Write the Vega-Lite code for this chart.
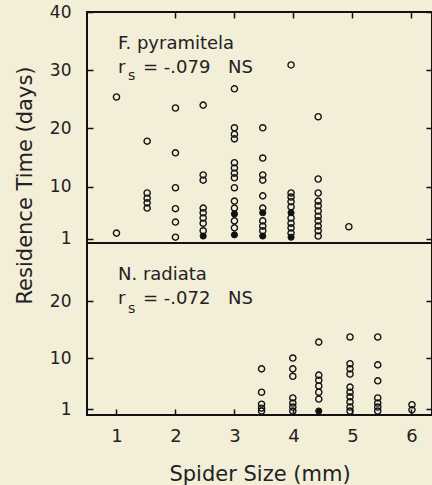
{
  "$schema": "https://vega.github.io/schema/vega-lite/v6.json",
  "background": "#f2eed8",
  "padding": {"left": 13, "top": 2, "right": 0, "bottom": 0},
  "spacing": 0,
  "bounds": "flush",
  "config": {
    "view": {"stroke": "#111", "strokeWidth": 2},
    "axis": {
      "grid": false, "domain": false, "tickColor": "#111", "tickWidth": 1.5, "tickSize": -6,
      "labelFont": "DejaVu Sans", "labelFontSize": 17, "labelColor": "#222", "labelFlush": false, "labelOverlap": false,
      "titleFont": "DejaVu Sans", "titleFontSize": 21, "titleFontWeight": "normal", "titleColor": "#222"
    }
  },
  "datasets": {
    "pts": [
      {"sp": "F", "size": 1.0, "days": 25.4, "fill": "o"},
      {"sp": "F", "size": 1.0, "days": 2.0, "fill": "o"},
      {"sp": "F", "size": 1.52, "days": 17.8, "fill": "o"},
      {"sp": "F", "size": 1.52, "days": 8.9, "fill": "o"},
      {"sp": "F", "size": 1.52, "days": 8.0, "fill": "o"},
      {"sp": "F", "size": 1.52, "days": 7.2, "fill": "o"},
      {"sp": "F", "size": 1.52, "days": 6.3, "fill": "o"},
      {"sp": "F", "size": 2.0, "days": 23.5, "fill": "o"},
      {"sp": "F", "size": 2.0, "days": 15.8, "fill": "o"},
      {"sp": "F", "size": 2.0, "days": 9.8, "fill": "o"},
      {"sp": "F", "size": 2.0, "days": 6.2, "fill": "o"},
      {"sp": "F", "size": 2.0, "days": 3.9, "fill": "o"},
      {"sp": "F", "size": 2.0, "days": 1.3, "fill": "o"},
      {"sp": "F", "size": 2.47, "days": 24.0, "fill": "o"},
      {"sp": "F", "size": 2.47, "days": 12.0, "fill": "o"},
      {"sp": "F", "size": 2.47, "days": 11.1, "fill": "o"},
      {"sp": "F", "size": 2.47, "days": 6.3, "fill": "o"},
      {"sp": "F", "size": 2.47, "days": 5.5, "fill": "o"},
      {"sp": "F", "size": 2.47, "days": 4.6, "fill": "o"},
      {"sp": "F", "size": 2.47, "days": 3.7, "fill": "o"},
      {"sp": "F", "size": 2.47, "days": 2.4, "fill": "o"},
      {"sp": "F", "size": 2.47, "days": 1.5, "fill": "f"},
      {"sp": "F", "size": 3.0, "days": 26.8, "fill": "o"},
      {"sp": "F", "size": 3.0, "days": 20.1, "fill": "o"},
      {"sp": "F", "size": 3.0, "days": 19.0, "fill": "o"},
      {"sp": "F", "size": 3.0, "days": 18.2, "fill": "o"},
      {"sp": "F", "size": 3.0, "days": 14.1, "fill": "o"},
      {"sp": "F", "size": 3.0, "days": 13.2, "fill": "o"},
      {"sp": "F", "size": 3.0, "days": 12.3, "fill": "o"},
      {"sp": "F", "size": 3.0, "days": 11.5, "fill": "o"},
      {"sp": "F", "size": 3.0, "days": 9.8, "fill": "o"},
      {"sp": "F", "size": 3.0, "days": 7.5, "fill": "o"},
      {"sp": "F", "size": 3.0, "days": 6.3, "fill": "o"},
      {"sp": "F", "size": 3.0, "days": 5.3, "fill": "f"},
      {"sp": "F", "size": 3.0, "days": 4.1, "fill": "o"},
      {"sp": "F", "size": 3.0, "days": 2.9, "fill": "o"},
      {"sp": "F", "size": 3.0, "days": 1.7, "fill": "f"},
      {"sp": "F", "size": 3.48, "days": 20.1, "fill": "o"},
      {"sp": "F", "size": 3.48, "days": 14.9, "fill": "o"},
      {"sp": "F", "size": 3.48, "days": 12.0, "fill": "o"},
      {"sp": "F", "size": 3.48, "days": 11.1, "fill": "o"},
      {"sp": "F", "size": 3.48, "days": 8.4, "fill": "o"},
      {"sp": "F", "size": 3.48, "days": 6.3, "fill": "o"},
      {"sp": "F", "size": 3.48, "days": 5.5, "fill": "f"},
      {"sp": "F", "size": 3.48, "days": 4.1, "fill": "o"},
      {"sp": "F", "size": 3.48, "days": 3.2, "fill": "o"},
      {"sp": "F", "size": 3.48, "days": 2.4, "fill": "o"},
      {"sp": "F", "size": 3.48, "days": 1.5, "fill": "f"},
      {"sp": "F", "size": 3.96, "days": 30.9, "fill": "o"},
      {"sp": "F", "size": 3.96, "days": 8.9, "fill": "o"},
      {"sp": "F", "size": 3.96, "days": 8.2, "fill": "o"},
      {"sp": "F", "size": 3.96, "days": 7.4, "fill": "o"},
      {"sp": "F", "size": 3.96, "days": 6.5, "fill": "o"},
      {"sp": "F", "size": 3.96, "days": 5.5, "fill": "f"},
      {"sp": "F", "size": 3.96, "days": 4.6, "fill": "o"},
      {"sp": "F", "size": 3.96, "days": 3.7, "fill": "o"},
      {"sp": "F", "size": 3.96, "days": 2.9, "fill": "o"},
      {"sp": "F", "size": 3.96, "days": 2.0, "fill": "o"},
      {"sp": "F", "size": 3.96, "days": 1.3, "fill": "f"},
      {"sp": "F", "size": 4.42, "days": 22.0, "fill": "o"},
      {"sp": "F", "size": 4.42, "days": 11.3, "fill": "o"},
      {"sp": "F", "size": 4.42, "days": 8.9, "fill": "o"},
      {"sp": "F", "size": 4.42, "days": 7.5, "fill": "o"},
      {"sp": "F", "size": 4.42, "days": 6.7, "fill": "o"},
      {"sp": "F", "size": 4.42, "days": 5.8, "fill": "o"},
      {"sp": "F", "size": 4.42, "days": 4.9, "fill": "o"},
      {"sp": "F", "size": 4.42, "days": 4.1, "fill": "o"},
      {"sp": "F", "size": 4.42, "days": 3.2, "fill": "o"},
      {"sp": "F", "size": 4.42, "days": 2.4, "fill": "o"},
      {"sp": "F", "size": 4.42, "days": 1.5, "fill": "o"},
      {"sp": "F", "size": 4.94, "days": 3.1, "fill": "o"},
      {"sp": "N", "size": 3.46, "days": 8.1, "fill": "o"},
      {"sp": "N", "size": 3.46, "days": 4.0, "fill": "o"},
      {"sp": "N", "size": 3.46, "days": 1.9, "fill": "o"},
      {"sp": "N", "size": 3.46, "days": 1.2, "fill": "o"},
      {"sp": "N", "size": 3.46, "days": 0.7, "fill": "o"},
      {"sp": "N", "size": 3.99, "days": 10.0, "fill": "o"},
      {"sp": "N", "size": 3.99, "days": 8.1, "fill": "o"},
      {"sp": "N", "size": 3.99, "days": 6.8, "fill": "o"},
      {"sp": "N", "size": 3.99, "days": 3.0, "fill": "o"},
      {"sp": "N", "size": 3.99, "days": 2.1, "fill": "o"},
      {"sp": "N", "size": 3.99, "days": 1.4, "fill": "o"},
      {"sp": "N", "size": 3.99, "days": 0.7, "fill": "o"},
      {"sp": "N", "size": 4.43, "days": 12.8, "fill": "o"},
      {"sp": "N", "size": 4.43, "days": 7.0, "fill": "o"},
      {"sp": "N", "size": 4.43, "days": 6.1, "fill": "o"},
      {"sp": "N", "size": 4.43, "days": 5.1, "fill": "o"},
      {"sp": "N", "size": 4.43, "days": 4.0, "fill": "o"},
      {"sp": "N", "size": 4.43, "days": 2.8, "fill": "o"},
      {"sp": "N", "size": 4.43, "days": 0.7, "fill": "f"},
      {"sp": "N", "size": 4.96, "days": 13.7, "fill": "o"},
      {"sp": "N", "size": 4.96, "days": 9.0, "fill": "o"},
      {"sp": "N", "size": 4.96, "days": 8.1, "fill": "o"},
      {"sp": "N", "size": 4.96, "days": 7.2, "fill": "o"},
      {"sp": "N", "size": 4.96, "days": 4.9, "fill": "o"},
      {"sp": "N", "size": 4.96, "days": 4.0, "fill": "o"},
      {"sp": "N", "size": 4.96, "days": 3.2, "fill": "o"},
      {"sp": "N", "size": 4.96, "days": 2.3, "fill": "o"},
      {"sp": "N", "size": 4.96, "days": 1.4, "fill": "o"},
      {"sp": "N", "size": 4.96, "days": 0.7, "fill": "o"},
      {"sp": "N", "size": 5.43, "days": 13.7, "fill": "o"},
      {"sp": "N", "size": 5.43, "days": 8.8, "fill": "o"},
      {"sp": "N", "size": 5.43, "days": 6.0, "fill": "o"},
      {"sp": "N", "size": 5.43, "days": 3.0, "fill": "o"},
      {"sp": "N", "size": 5.43, "days": 2.1, "fill": "o"},
      {"sp": "N", "size": 5.43, "days": 1.4, "fill": "o"},
      {"sp": "N", "size": 5.43, "days": 0.7, "fill": "o"},
      {"sp": "N", "size": 6.01, "days": 1.8, "fill": "o"},
      {"sp": "N", "size": 6.01, "days": 0.9, "fill": "o"}
    ]
  },
  "vconcat": [
    {
      "width": 345,
      "height": 231,
      "resolve": {"axis": {"x": "independent", "y": "independent"}},
      "layer": [
        {
          "data": {"name": "pts"},
          "transform": [{"filter": "datum.sp === 'F' && datum.fill === 'o'"}],
          "mark": {"type": "point", "shape": "circle", "filled": false, "stroke": "#111", "strokeWidth": 1.4, "size": 38, "opacity": 1},
          "encoding": {
            "x": {"field": "size", "type": "quantitative", "scale": {"domain": [0.5, 6.35], "nice": false, "zero": false}, "axis": null},
            "y": {"field": "days", "type": "quantitative", "scale": {"domain": [0.3, 40], "nice": false, "zero": false},
                  "axis": {"values": [1, 10, 20, 30, 40], "labelPadding": 22, "title": "Residence Time (days)", "titleX": -52, "titleY": 173, "titleAngle": -90, "titleAlign": "center", "titleBaseline": "bottom"}}
          }
        },
        {
          "data": {"name": "pts"},
          "transform": [{"filter": "datum.sp === 'F' && datum.fill === 'f'"}],
          "mark": {"type": "point", "shape": "circle", "filled": true, "fill": "#111", "stroke": "#111", "strokeWidth": 1, "size": 38, "opacity": 1},
          "encoding": {
            "x": {"field": "size", "type": "quantitative", "scale": {"domain": [0.5, 6.35], "nice": false, "zero": false},
                  "axis": {"orient": "top", "values": [2, 3, 4, 5, 6], "labels": false, "title": null}},
            "y": {"field": "days", "type": "quantitative", "scale": {"domain": [0.3, 40], "nice": false, "zero": false},
                  "axis": {"orient": "right", "values": [1, 10, 20, 30, 40], "labels": false, "title": null}}
          }
        },
        {
          "data": {"values": [{}]},
          "mark": {"type": "text", "text": "F. pyramitela", "align": "left", "baseline": "alphabetic", "font": "DejaVu Sans", "fontSize": 18, "color": "#222"},
          "encoding": {
            "x": {"datum": 1.026, "type": "quantitative", "scale": {"domain": [0.5, 6.35], "nice": false, "zero": false}, "axis": null},
            "y": {"datum": 33.64, "type": "quantitative", "scale": {"domain": [0.3, 40], "nice": false, "zero": false}, "axis": null}
          }
        },
        {
          "data": {"values": [{}]},
          "mark": {"type": "text", "text": "r", "align": "left", "baseline": "alphabetic", "font": "DejaVu Sans", "fontSize": 18, "color": "#222"},
          "encoding": {
            "x": {"datum": 1.026, "type": "quantitative", "scale": {"domain": [0.5, 6.35], "nice": false, "zero": false}, "axis": null},
            "y": {"datum": 29.52, "type": "quantitative", "scale": {"domain": [0.3, 40], "nice": false, "zero": false}, "axis": null}
          }
        },
        {
          "data": {"values": [{}]},
          "mark": {"type": "text", "text": "s", "align": "left", "baseline": "alphabetic", "font": "DejaVu Sans", "fontSize": 14, "color": "#222"},
          "encoding": {
            "x": {"datum": 1.195, "type": "quantitative", "scale": {"domain": [0.5, 6.35], "nice": false, "zero": false}, "axis": null},
            "y": {"datum": 28.3, "type": "quantitative", "scale": {"domain": [0.3, 40], "nice": false, "zero": false}, "axis": null}
          }
        },
        {
          "data": {"values": [{}]},
          "mark": {"type": "text", "text": "= -.079", "align": "left", "baseline": "alphabetic", "font": "DejaVu Sans", "fontSize": 18, "color": "#222"},
          "encoding": {
            "x": {"datum": 1.45, "type": "quantitative", "scale": {"domain": [0.5, 6.35], "nice": false, "zero": false}, "axis": null},
            "y": {"datum": 29.52, "type": "quantitative", "scale": {"domain": [0.3, 40], "nice": false, "zero": false}, "axis": null}
          }
        },
        {
          "data": {"values": [{}]},
          "mark": {"type": "text", "text": "NS", "align": "left", "baseline": "alphabetic", "font": "DejaVu Sans", "fontSize": 18, "color": "#222"},
          "encoding": {
            "x": {"datum": 2.891, "type": "quantitative", "scale": {"domain": [0.5, 6.35], "nice": false, "zero": false}, "axis": null},
            "y": {"datum": 29.52, "type": "quantitative", "scale": {"domain": [0.3, 40], "nice": false, "zero": false}, "axis": null}
          }
        }
      ]
    },
    {
      "width": 345,
      "height": 172,
      "resolve": {"axis": {"x": "independent", "y": "independent"}},
      "layer": [
        {
          "data": {"name": "pts"},
          "transform": [{"filter": "datum.sp === 'N' && datum.fill === 'o'"}],
          "mark": {"type": "point", "shape": "circle", "filled": false, "stroke": "#111", "strokeWidth": 1.4, "size": 38, "opacity": 1},
          "encoding": {
            "x": {"field": "size", "type": "quantitative", "scale": {"domain": [0.5, 6.35], "nice": false, "zero": false},
                  "axis": {"orient": "bottom", "values": [1, 2, 3, 4, 5, 6], "labelFontSize": 18, "labelPadding": 18, "title": "Spider Size (mm)", "titlePadding": 18}},
            "y": {"field": "days", "type": "quantitative", "scale": {"domain": [0, 30.2], "nice": false, "zero": false},
                  "axis": {"values": [1, 10, 20], "labelPadding": 22, "title": null}}
          }
        },
        {
          "data": {"name": "pts"},
          "transform": [{"filter": "datum.sp === 'N' && datum.fill === 'f'"}],
          "mark": {"type": "point", "shape": "circle", "filled": true, "fill": "#111", "stroke": "#111", "strokeWidth": 1, "size": 38, "opacity": 1},
          "encoding": {
            "x": {"field": "size", "type": "quantitative", "scale": {"domain": [0.5, 6.35], "nice": false, "zero": false}, "axis": null},
            "y": {"field": "days", "type": "quantitative", "scale": {"domain": [0, 30.2], "nice": false, "zero": false},
                  "axis": {"orient": "right", "values": [1, 10, 20], "labels": false, "title": null}}
          }
        },
        {
          "data": {"values": [{}]},
          "mark": {"type": "text", "text": "N. radiata", "align": "left", "baseline": "alphabetic", "font": "DejaVu Sans", "fontSize": 18, "color": "#222"},
          "encoding": {
            "x": {"datum": 1.026, "type": "quantitative", "scale": {"domain": [0.5, 6.35], "nice": false, "zero": false}, "axis": null},
            "y": {"datum": 23.7, "type": "quantitative", "scale": {"domain": [0, 30.2], "nice": false, "zero": false}, "axis": null}
          }
        },
        {
          "data": {"values": [{}]},
          "mark": {"type": "text", "text": "r", "align": "left", "baseline": "alphabetic", "font": "DejaVu Sans", "fontSize": 18, "color": "#222"},
          "encoding": {
            "x": {"datum": 1.026, "type": "quantitative", "scale": {"domain": [0.5, 6.35], "nice": false, "zero": false}, "axis": null},
            "y": {"datum": 19.49, "type": "quantitative", "scale": {"domain": [0, 30.2], "nice": false, "zero": false}, "axis": null}
          }
        },
        {
          "data": {"values": [{}]},
          "mark": {"type": "text", "text": "s", "align": "left", "baseline": "alphabetic", "font": "DejaVu Sans", "fontSize": 14, "color": "#222"},
          "encoding": {
            "x": {"datum": 1.195, "type": "quantitative", "scale": {"domain": [0.5, 6.35], "nice": false, "zero": false}, "axis": null},
            "y": {"datum": 17.9, "type": "quantitative", "scale": {"domain": [0, 30.2], "nice": false, "zero": false}, "axis": null}
          }
        },
        {
          "data": {"values": [{}]},
          "mark": {"type": "text", "text": "= -.072", "align": "left", "baseline": "alphabetic", "font": "DejaVu Sans", "fontSize": 18, "color": "#222"},
          "encoding": {
            "x": {"datum": 1.45, "type": "quantitative", "scale": {"domain": [0.5, 6.35], "nice": false, "zero": false}, "axis": null},
            "y": {"datum": 19.49, "type": "quantitative", "scale": {"domain": [0, 30.2], "nice": false, "zero": false}, "axis": null}
          }
        },
        {
          "data": {"values": [{}]},
          "mark": {"type": "text", "text": "NS", "align": "left", "baseline": "alphabetic", "font": "DejaVu Sans", "fontSize": 18, "color": "#222"},
          "encoding": {
            "x": {"datum": 2.891, "type": "quantitative", "scale": {"domain": [0.5, 6.35], "nice": false, "zero": false}, "axis": null},
            "y": {"datum": 19.49, "type": "quantitative", "scale": {"domain": [0, 30.2], "nice": false, "zero": false}, "axis": null}
          }
        }
      ]
    }
  ]
}
